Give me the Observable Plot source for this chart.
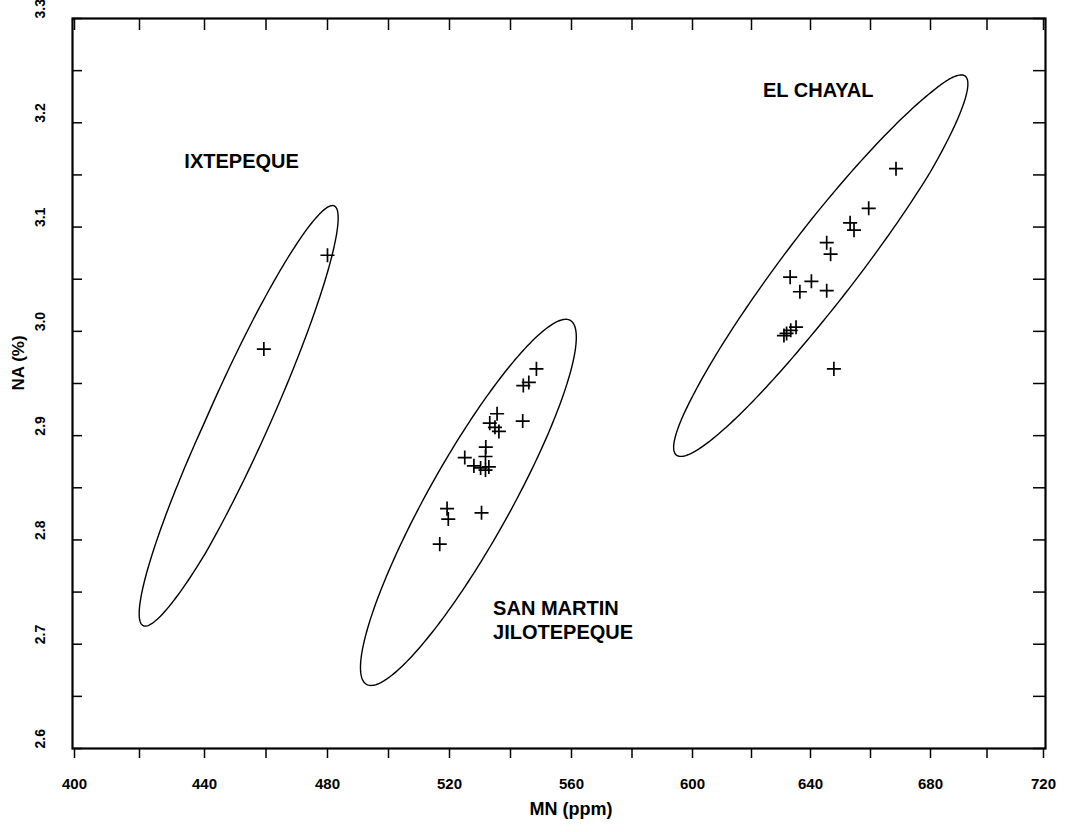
<!DOCTYPE html>
<html><head><meta charset="utf-8">
<script src="https://cdn.jsdelivr.net/npm/d3@7"></script>
<script src="https://cdn.jsdelivr.net/npm/@observablehq/plot@0.6"></script>
<style>body{margin:0;background:#fff}</style>
</head><body><div id="chart"></div>
<script>
// ---- data ----
const ixtMN = [459.3, 480.0];
const ixtNA = [2.983, 3.073];
const smjMN = [548.5, 546.0, 544.2, 535.6, 533.2, 534.9, 536.2, 544.0, 531.9, 531.8, 525.0, 528.0, 530.2, 531.8, 532.9, 519.2, 519.6, 530.5, 516.8];
const smjNA = [2.964, 2.951, 2.948, 2.921, 2.912, 2.908, 2.904, 2.914, 2.889, 2.880, 2.879, 2.871, 2.869, 2.867, 2.870, 2.830, 2.820, 2.826, 2.796];
const ecMN = [668.5, 659.4, 653.2, 654.5, 645.4, 646.7, 633.1, 640.3, 636.4, 645.4, 635.1, 633.3, 631.9, 631.0, 647.8];
const ecNA = [3.156, 3.118, 3.104, 3.097, 3.085, 3.074, 3.052, 3.048, 3.038, 3.039, 3.004, 3.001, 2.998, 2.996, 2.964];

// confidence ellipses: centre and two conjugate semi-axes (data units)
const ellName = ["IXTEPEQUE", "SAN MARTIN JILOTEPEQUE", "EL CHAYAL"];
const ellCenterMN = [451.7, 526.2, 643.5];
const ellCenterNA = [2.919, 2.836, 3.063];
const ellMajorMN = [30.5, 33.4, 48.8];
const ellMajorNA = [0.2013, 0.1745, 0.1817];
const ellMinorMN = [9.0, 11.7, 9.6];
const ellMinorNA = [-0.0117, -0.0192, -0.021];

// group labels
const labelText = ["IXTEPEQUE", "EL CHAYAL", "SAN MARTIN", "JILOTEPEQUE"];
const labelMN = [433.8, 623.9, 534.3, 534.3];
const labelNA = [3.163, 3.231, 2.734, 2.711];

// ticks
const xMajor = [400, 440, 480, 520, 560, 600, 640, 680, 720];
const xMinor = [400, 420, 440, 460, 480, 500, 520, 540, 560, 580, 600, 620, 640, 660, 680, 700, 720];
const yMajor = [2.6, 2.7, 2.8, 2.9, 3.0, 3.1, 3.2, 3.3];
const yMinor = [2.6, 2.65, 2.7, 2.75, 2.8, 2.85, 2.9, 2.95, 3.0, 3.05, 3.1, 3.15, 3.2, 3.25, 3.3];

// ---- build tables ----
const points = [
  ...ixtMN.map((m, i) => ({mn: m, na: ixtNA[i]})),
  ...smjMN.map((m, i) => ({mn: m, na: smjNA[i]})),
  ...ecMN.map((m, i) => ({mn: m, na: ecNA[i]}))
];
const ellPts = [];
ellName.forEach((name, k) => {
  const n = 240;
  for (let j = 0; j <= n; j++) {
    const t = (2 * Math.PI * j) / n;
    ellPts.push({
      name,
      mn: ellCenterMN[k] + ellMajorMN[k] * Math.cos(t) + ellMinorMN[k] * Math.sin(t),
      na: ellCenterNA[k] + ellMajorNA[k] * Math.cos(t) + ellMinorNA[k] * Math.sin(t)
    });
  }
});
const labels = labelText.map((t, i) => ({t, mn: labelMN[i], na: labelNA[i]}));

const W = 1074, H = 832, mL = 72, mR = 29, mT = 18, mB = 84;
const innerW = W - mL - mR, innerH = H - mT - mB;

const chart = Plot.plot({
  width: W, height: H,
  marginLeft: mL, marginRight: mR, marginTop: mT, marginBottom: mB,
  style: {fontFamily: "'Liberation Sans', Arial, Helvetica, sans-serif", color: "#000", background: "#fff"},
  // the printed axis is slightly uneven; follow its tick positions
  x: {type: "linear", domain: xMajor, range: [74, 204, 327, 449, 571, 692, 810, 930, 1043], axis: null},
  y: {domain: [2.6, 3.3], axis: null},
  marks: [
    // ticks
    Plot.ruleX(xMinor, {x: d => d, insetTop: innerH, insetBottom: -10, stroke: "#000", strokeWidth: 1.5}),
    Plot.ruleX(xMinor, {x: d => d, insetBottom: innerH - 12, stroke: "#000", strokeWidth: 1.5}),
    Plot.ruleY(yMinor, {y: d => d, insetRight: innerW - 10, stroke: "#000", strokeWidth: 1.5}),
    Plot.ruleY(yMinor, {y: d => d, insetLeft: innerW - 12, stroke: "#000", strokeWidth: 1.5}),
    Plot.frame({stroke: "#000", strokeWidth: 2.2}),
    // tick labels
    Plot.text(xMajor, {x: d => d, text: d => String(d), frameAnchor: "bottom", dy: 40, fontSize: 15, fontWeight: "bold", fill: "#000"}),
    Plot.text(yMajor, {y: d => d, text: d => d.toFixed(1), frameAnchor: "left", dx: -32, rotate: -90, fontSize: 14, fontWeight: "bold", fill: "#000"}),
    // axis titles
    Plot.text(["MN (ppm)"], {text: d => d, frameAnchor: "bottom", dx: 12, dy: 66, fontSize: 18, fontWeight: "bold", fill: "#000"}),
    Plot.text(["NA (%)"], {text: d => d, frameAnchor: "left", dx: -54, dy: 7, rotate: -90, fontSize: 17, fontWeight: "bold", fill: "#000"}),
    // ellipses
    Plot.line(ellPts, {x: "mn", y: "na", z: "name", stroke: "#000", strokeWidth: 1.4}),
    // points
    Plot.dot(points, {x: "mn", y: "na", symbol: "plus", r: 4.6, stroke: "#000", strokeWidth: 1.7}),
    // group labels
    Plot.text(labels, {x: "mn", y: "na", text: "t", textAnchor: "start", fontSize: 20, fontWeight: "bold", fill: "#000"})
  ]
});
document.getElementById("chart").appendChild(chart);
</script>
</body></html>
